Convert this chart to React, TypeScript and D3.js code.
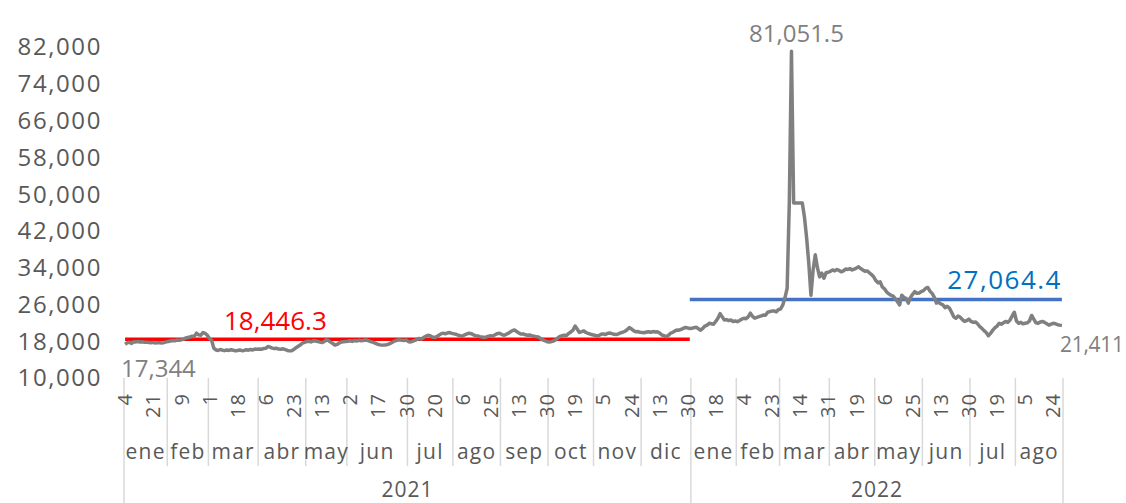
import React from "react";
import * as d3 from "d3";

const W = 1126;
const H = 503;
const FONT = "'Open Sans', sans-serif";

const years = ["2021", "2022"];
const months2021 = ["ene", "feb", "mar", "abr", "may", "jun", "jul", "ago", "sep", "oct", "nov", "dic"];
const months2022 = ["ene", "feb", "mar", "abr", "may", "jun", "jul", "ago"];

// one label every 13 points
const labelStep = 13;
const dayLabels = ["4", "21", "9", "1", "18", "6", "23", "13", "2", "17", "30", "20", "6", "25", "13", "30", "19",
  "5", "24", "13", "30", "18", "4", "23", "14", "31", "19", "6", "25", "13", "30", "19", "5", "24"];

const yTicks = [10000, 18000, 26000, 34000, 42000, 50000, 58000, 66000, 74000, 82000];

const avg2021 = 18446.3;
const avg2022 = 27064.4;

// daily values, one inner array per month
const price2021 = [
  [17344, 17650, 17800, 17500, 17900, 17850, 17950, 17800, 17900, 17750, 17800, 17700, 17650, 17750, 17600, 17700, 17650, 17600, 17700, 17850],
  [17950, 18050, 18150, 18100, 18250, 18200, 18300, 18450, 18700, 18800, 18900, 19100, 19050, 19750, 19400, 19300, 19900, 19700, 19300],
  [18600, 18200, 16500, 16100, 16000, 16200, 16050, 15950, 16100, 16000, 16150, 16050, 15900, 16000, 16100, 15950, 16000, 16150, 16050, 16200, 16100, 16300, 16250],
  [16300, 16250, 16400, 16450, 16850, 16700, 16500, 16400, 16450, 16300, 16250, 16350, 16200, 16000, 15900, 15950, 16200, 16600, 16900, 17200, 17600, 17750],
  [17950, 18000, 17850, 18100, 18050, 17950, 17800, 17700, 17900, 18300, 18150, 17800, 17500, 17150, 17300, 17600, 17850, 17900, 17950],
  [18000, 18100, 17950, 18150, 18050, 18200, 18100, 18150, 18250, 18200, 18000, 17850, 17700, 17500, 17300, 17200, 17150, 17200, 17250, 17400, 17650, 17900, 18100, 18250, 18300, 18200, 18150, 18250],
  [17900, 17850, 18000, 18200, 18400, 18600, 18500, 18800, 19100, 19300, 19200, 18900, 18800, 19000, 19300, 19600, 19750, 19600, 19800, 19900, 19700],
  [19600, 19500, 19300, 19200, 19150, 19400, 19600, 19750, 19650, 19400, 19200, 19150, 19000, 18900, 18800, 18950, 19100, 19200, 19150, 19400, 19650, 19750],
  [19500, 19300, 19450, 19700, 20000, 20300, 20450, 20100, 19800, 19550, 19600, 19400, 19300, 19350, 19200, 19100, 19000, 18900, 18600, 18300, 18100, 17900],
  [17850, 17900, 18050, 18300, 18700, 19050, 19200, 19300, 19250, 19700, 20000, 20400, 21300, 20600, 19900, 20100, 20250, 19900, 19700, 19550, 19400],
  [19300, 19150, 19250, 19500, 19600, 19450, 19700, 19800, 19650, 19500, 19450, 19600, 19800, 19950, 20150, 20500, 20950, 20700, 20300, 20050, 20100, 19950],
  [19900, 19850, 20000, 20050, 19950, 20100, 20000, 20050, 19800, 19400, 19200, 19000, 19250, 19700, 19900, 20200, 20450, 20400, 20600, 20800, 21000, 20900, 20750],
];

const price2022 = [
  [20800, 20950, 21050, 20700, 20400, 20800, 21300, 21500, 21900, 21800, 21700, 22300, 23000, 24000, 23300, 22600, 22700, 22500, 22600, 22300, 22400],
  [22250, 22500, 22800, 23000, 22900, 23300, 24100, 23400, 23000, 23200, 23350, 23500, 23700, 23650, 24300, 24450, 24550, 24600, 24400, 24900],
  [25000, 25900, 27500, 29500, 48078, 81051.5, 48078, 48078, 48078, 48078, 48078, 45000, 40500, 35000, 28000, 33500, 36800, 34000, 32000, 32800, 31700, 32900, 33000],
  [33200, 33500, 33300, 33600, 33400, 33100, 33300, 33700, 33600, 33800, 33500, 33700, 33900, 34200, 33800, 33500, 33200, 33300, 32900, 32500, 32000],
  [31200, 30700, 30900, 29800, 29400, 28700, 28300, 28000, 27800, 27200, 26600, 25900, 28000, 27500, 27300, 26300, 27500, 28200, 28800, 28400, 28500, 28800],
  [29000, 29500, 29700, 28900, 28400, 27600, 26300, 26500, 26100, 25900, 25300, 25600, 25200, 24300, 23300, 23000, 23500, 23200, 22700, 22300, 22500, 22800],
  [22300, 22100, 22200, 21800, 21200, 20800, 20300, 19900, 19200, 19700, 20400, 20900, 21300, 21900, 21700, 22000, 22300, 22100, 22600, 23500, 24300],
  [22400, 21900, 22100, 21800, 21900, 22000, 22400, 23600, 22800, 22000, 21900, 22200, 22300, 22100, 21800, 21500, 21700, 21900, 21800, 21600, 21500, 21411],
];

const values = [...price2021.flat(), ...price2022.flat()];
const N = values.length;
const n2021 = price2021.flat().length;

const monthInfo: { label: string; start: number; end: number }[] = [];
{
  let s = 0;
  price2021.forEach((m, k) => { monthInfo.push({ label: months2021[k], start: s, end: s + m.length }); s += m.length; });
  price2022.forEach((m, k) => { monthInfo.push({ label: months2022[k], start: s, end: s + m.length }); s += m.length; });
}

const fmt = d3.format(",");

export default function App() {
  const x = d3.scaleBand<number>().domain(d3.range(N)).range([124, 1063]).padding(0);
  const bw = x.bandwidth();
  const cx = (i: number) => (x(i) as number) + bw / 2;
  const edge = (i: number) => (i >= N ? 1063 : (x(i) as number));
  const y = d3.scaleLinear().domain([10000, 82000]).range([378, 47]);

  const line = d3.line<number>().x((_, i) => cx(i)).y((d) => y(d));
  const avgLine = d3.line<number>().x((d) => cx(d)).y(0);

  const peakIdx = values.indexOf(d3.max(values) as number);

  const yearBounds = [0, n2021, N];
  const gridColor = "#d9d9d9";

  return (
    <div style={{ position: "absolute", left: 0, top: 0 }}>
      <svg width={W} height={H} style={{ display: "block", background: "#fff" }} fontFamily={FONT}>
        {/* y axis labels */}
        {yTicks.map((t) => (
          <text key={t} x={102} y={y(t)} dy="0.35em" textAnchor="end" fontSize={24} letterSpacing={1.6} fill="#595959">
            {fmt(t)}
          </text>
        ))}

        {/* category separators */}
        {monthInfo.slice(1).map((m) =>
          yearBounds.includes(m.start) ? null : (
            <line key={"m" + m.start} x1={edge(m.start)} x2={edge(m.start)} y1={378} y2={466} stroke={gridColor} strokeWidth={1.5} />
          )
        )}
        {yearBounds.map((b) => (
          <line key={"y" + b} x1={edge(b)} x2={edge(b)} y1={378} y2={H} stroke={gridColor} strokeWidth={1.5} />
        ))}

        {/* day labels */}
        {dayLabels.map((d, j) => {
          const i = j * labelStep;
          return (
            <text key={"d" + j} transform={`translate(${cx(i)},393) rotate(-90)`} dy="0.36em" textAnchor="end"
              fontSize={20} letterSpacing={1} fill="#595959">
              {d}
            </text>
          );
        })}

        {/* month labels */}
        {monthInfo.map((m) => (
          <text key={"ml" + m.start} x={(edge(m.start) + edge(m.end)) / 2} y={459} textAnchor="middle"
            fontSize={21} letterSpacing={1.2} fill="#595959">
            {m.label}
          </text>
        ))}

        {/* year labels */}
        {years.map((yr, k) => (
          <text key={yr} x={(edge(yearBounds[k]) + edge(yearBounds[k + 1])) / 2} y={497} textAnchor="middle"
            fontSize={21} letterSpacing={1} fill="#595959">
            {yr}
          </text>
        ))}

        {/* averages */}
        <path d={avgLine(d3.range(0, n2021)) as string} transform={`translate(0,${y(avg2021)})`}
          stroke="#ff0000" strokeWidth={3.5} fill="none" />
        <path d={avgLine(d3.range(n2021 - 1, N)) as string} transform={`translate(0,${y(avg2022)})`}
          stroke="#4472c4" strokeWidth={3.5} fill="none" />

        {/* price line */}
        <path d={line(values) as string} stroke="#808080" strokeWidth={3.5} fill="none" strokeLinejoin="round" />

        {/* data labels */}
        <text x={cx(peakIdx) + 5} y={42} textAnchor="middle" fontSize={24} fill="#808080">
          {d3.format(",.1f")(values[peakIdx])}
        </text>
        <text x={121} y={377} fontSize={24} fill="#808080">{fmt(values[0])}</text>
        <text x={1060} y={352} fontSize={21} letterSpacing={-0.3} fill="#808080">{fmt(values[N - 1])}</text>
        <text x={224} y={330} fontSize={26} fill="#ff0000">{d3.format(",.1f")(avg2021)}</text>
        <text x={1062} y={289} textAnchor="end" fontSize={26} letterSpacing={1.5} fill="#0070c0">
          {d3.format(",.1f")(avg2022)}
        </text>
      </svg>
    </div>
  );
}
